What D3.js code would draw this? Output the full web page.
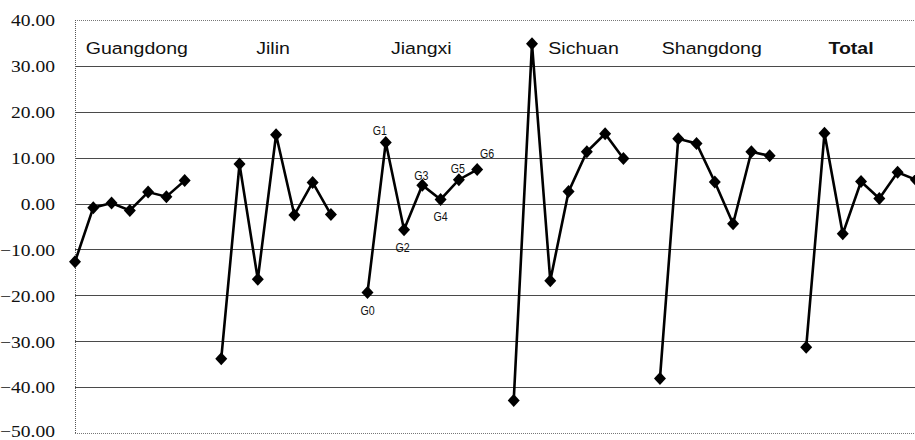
<!DOCTYPE html>
<html>
<head>
<meta charset="utf-8">
<script src="https://cdn.jsdelivr.net/npm/d3@7"></script>
<style>
  html, body { margin: 0; padding: 0; background: #fff; }
  svg { display: block; }
</style>
</head>
<body>
<svg id="chart" width="915" height="440"></svg>
<script>
// ---------------- DATA ----------------
const categories = ["Guangdong", "Jilin", "Jiangxi", "Sichuan", "Shangdong", "Total"];
const pointLabels = ["G0", "G1", "G2", "G3", "G4", "G5", "G6"];
const guangdong = [-12.7, -0.9, 0.1, -1.5, 2.5, 1.5, 5.0];
const jilin     = [-33.8, 8.6, -16.5, 15.0, -2.5, 4.6, -2.4];
const jiangxi   = [-19.4, 13.3, -5.7, 4.0, 0.9, 5.2, 7.4];
const sichuan   = [-42.9, 34.8, -16.8, 2.6, 11.3, 15.2, 9.8];
const shangdong = [-38.1, 14.1, 13.1, 4.7, -4.4, 11.3, 10.4];
const total     = [-31.3, 15.3, -6.6, 4.8, 1.1, 6.8, 5.2];
const yTicks = [40, 30, 20, 10, 0, -10, -20, -30, -40, -50];

const seriesValues = [guangdong, jilin, jiangxi, sichuan, shangdong, total];
const labelledGroup = "Jiangxi";

// ---------------- LAYOUT ----------------
const svg = d3.select("#chart");
const plotLeft = 75, plotTop = 20, plotBottom = 433;
const slotW = 18.28;
const slotsPerGroup = 8;

const slotKeys = [];
categories.forEach(c => { for (let i = 0; i < slotsPerGroup; i++) slotKeys.push(c + "|" + i); });

const x = d3.scalePoint()
  .domain(slotKeys)
  .range([plotLeft, plotLeft + (slotKeys.length - 1) * slotW]);

const y = d3.scaleLinear().domain([-50, 40]).range([plotBottom, plotTop]);

// gridlines
const grid = svg.append("g");
grid.selectAll("line.g")
  .data(yTicks.filter(t => t !== 40 && t !== -50))
  .enter().append("line")
  .attr("x1", plotLeft).attr("x2", 915)
  .attr("y1", d => Math.round(y(d)) + 0.5).attr("y2", d => Math.round(y(d)) + 0.5)
  .attr("stroke", "#4a4a4a").attr("stroke-width", 1);

// dotted border: top, bottom, left
[40, -50].forEach(t => {
  grid.append("line")
    .attr("x1", plotLeft).attr("x2", 915)
    .attr("y1", Math.round(y(t)) + 0.5).attr("y2", Math.round(y(t)) + 0.5)
    .attr("stroke", "#777").attr("stroke-width", 1)
    .attr("stroke-dasharray", "1,1");
});
grid.append("line")
  .attr("x1", plotLeft + 0.5).attr("x2", plotLeft + 0.5)
  .attr("y1", y(40)).attr("y2", y(-50))
  .attr("stroke", "#555").attr("stroke-width", 1)
  .attr("stroke-dasharray", "1,1");

// y axis
const yAxis = d3.axisLeft(y).tickValues(yTicks).tickFormat(d3.format(".2f")).tickSize(0).tickPadding(0);
const ag = svg.append("g").attr("transform", "translate(55,0)").call(yAxis);
ag.select(".domain").remove();
ag.attr("font-family", null).attr("font-size", null);
ag.selectAll(".tick text")
  .style("font-family", "'Liberation Serif', 'Times New Roman', serif")
  .style("font-size", "17px")
  .attr("fill", "#111")
  .attr("x", 0)
  .attr("y", d => d === -50 ? -2 : 0)
  .attr("dy", "0.34em")
  .attr("text-anchor", "end")
  .attr("transform", "scale(1.15,1)");

// lines & markers
const line = d3.line().x(d => x(d.key)).y(d => y(d.v));
const diamond = "M0,-6.5L6,0L0,6.5L-6,0Z";

seriesValues.forEach((vals, gi) => {
  const pts = vals.map((v, i) => ({ key: categories[gi] + "|" + i, v }));
  svg.append("path")
    .datum(pts)
    .attr("d", line)
    .attr("fill", "none")
    .attr("stroke", "#000")
    .attr("stroke-width", 2.6)
    .attr("stroke-linejoin", "miter");
  svg.append("g").selectAll("path")
    .data(pts).enter().append("path")
    .attr("d", diamond)
    .attr("transform", d => `translate(${x(d.key)},${y(d.v)})`)
    .attr("fill", "#000");
});

// group labels
const groupLabelDx = [7, -3, -1, 15, -3, -10];
categories.forEach((c, gi) => {
  const cx = x(c + "|3") + groupLabelDx[gi];
  svg.append("text")
    .attr("transform", `translate(${cx},54) scale(1.15,1)`)
    .attr("text-anchor", "middle")
    .style("font-family", "'Liberation Sans', Arial, sans-serif")
    .style("font-size", "17px")
    .attr("font-weight", c === "Total" ? "bold" : "normal")
    .attr("fill", "#111")
    .text(c);
});

// point labels for Jiangxi
const plOffsets = [[0, 22], [-6, -8], [-1.5, 22], [-1, -5], [0, 22], [-1, -7], [10, -12]];
const jIdx = categories.indexOf(labelledGroup);
pointLabels.forEach((lab, i) => {
  const key = labelledGroup + "|" + i;
  const px = x(key) + plOffsets[i][0];
  const py = y(seriesValues[jIdx][i]) + plOffsets[i][1];
  svg.append("text")
    .attr("transform", `translate(${px},${py}) scale(0.82,1)`)
    .attr("text-anchor", "middle")
    .style("font-family", "'Liberation Sans', Arial, sans-serif")
    .style("font-size", "13px")
    .attr("fill", "#111")
    .text(lab);
});
</script>
</body>
</html>
